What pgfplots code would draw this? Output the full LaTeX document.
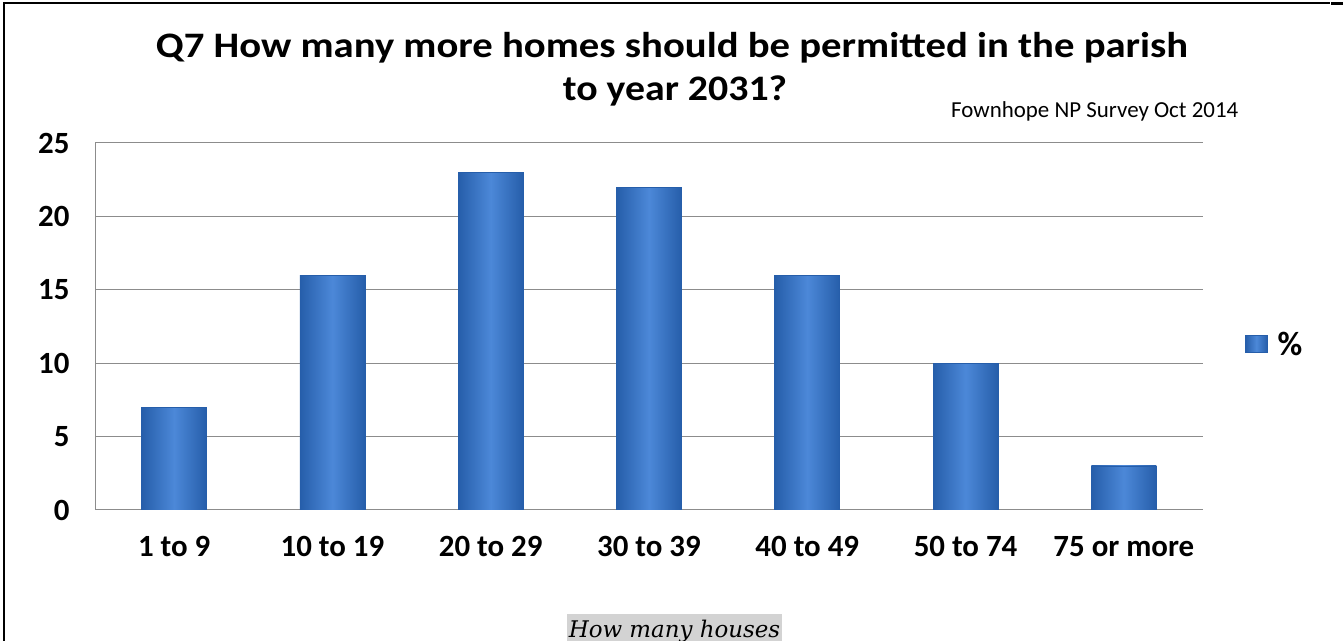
\documentclass[border=0pt]{standalone}
\usepackage{pgfplots}
\pgfplotsset{compat=1.18}
\usepackage{fontspec}
\setmainfont{Carlito}
\newfontfamily\capfont{DejaVu Serif}
\definecolor{barmid}{RGB}{76,136,216}
\definecolor{baredge}{RGB}{38,94,170}
\definecolor{gridc}{RGB}{140,140,140}
\definecolor{capgray}{RGB}{211,211,211}
\pgfplotsset{mybar/.style={draw=baredge, line width=0.8bp, left color=baredge, right color=baredge, middle color=barmid}}
\begin{document}
\begin{tikzpicture}
\useasboundingbox (0,0) rectangle (1343bp,641bp);
\begin{axis}[
  at={(95bp,131bp)}, anchor=south west,
  scale only axis, width=1108bp, height=367bp,
  xmin=-0.5, xmax=6.5, ymin=0, ymax=25,
  ytick={0,5,10,15,20,25}, xtick={0,1,2,3,4,5,6},
  xticklabels={1 to 9, 10 to 19, 20 to 29, 30 to 39, 40 to 49, 50 to 74, 75 or more},
  ybar, bar width=65bp, bar shift=0pt,
  axis x line*=bottom, axis y line*=left,
  axis line style={-, gridc, line width=1bp},
  ymajorgrids, grid style={gridc, line width=1bp},
  major tick length=0pt,
  tick label style={font=\fontsize{31}{37}\selectfont\bfseries},
  /pgf/number format/assume math mode=true,
  yticklabel style={xshift=-22bp},
  xticklabel style={yshift=-23bp},
  legend style={at={(1.035,0.452)}, anchor=west, draw=none, fill=none, font=\fontsize{34}{40}\selectfont\bfseries},
  legend image code/.code={\path[#1] (0bp,-8bp) rectangle (22bp,9bp);},
]
\addplot[mybar] coordinates {(0,7)};
\addplot[mybar] coordinates {(1,16)};
\addplot[mybar] coordinates {(2,23)};
\addplot[mybar] coordinates {(3,22)};
\addplot[mybar] coordinates {(4,16)};
\addplot[mybar] coordinates {(5,10)};
\addplot[mybar] coordinates {(6,3)};
\legend{\hspace{8bp}\%}
\end{axis}
\node[anchor=base, font=\fontsize{36}{43}\selectfont\bfseries] at (672bp,583bp) {\scalebox{1.135}[1]{Q7 How many more homes should be permitted in the parish}};
\node[anchor=base, font=\fontsize{36}{43}\selectfont\bfseries] at (675bp,540bp) {\scalebox{1.11}[1]{to year 2031?}};
\node[anchor=base west, font=\fontsize{23}{27}\selectfont, inner sep=0pt] at (951bp,523bp) {Fownhope NP Survey Oct 2014};
\fill[capgray] (567bp,0) rectangle (782bp,27bp);
\node[anchor=base, font=\capfont\itshape\fontsize{23}{28}\selectfont, inner sep=0pt] at (674.5bp,4bp) {How many houses};
\draw[line width=2.5bp] (4bp,0) -- (4bp,638bp) -- (1330bp,638bp);
\draw[line width=3bp] (1331bp,637bp) -- (1343bp,637bp);
\end{tikzpicture}
\end{document}
